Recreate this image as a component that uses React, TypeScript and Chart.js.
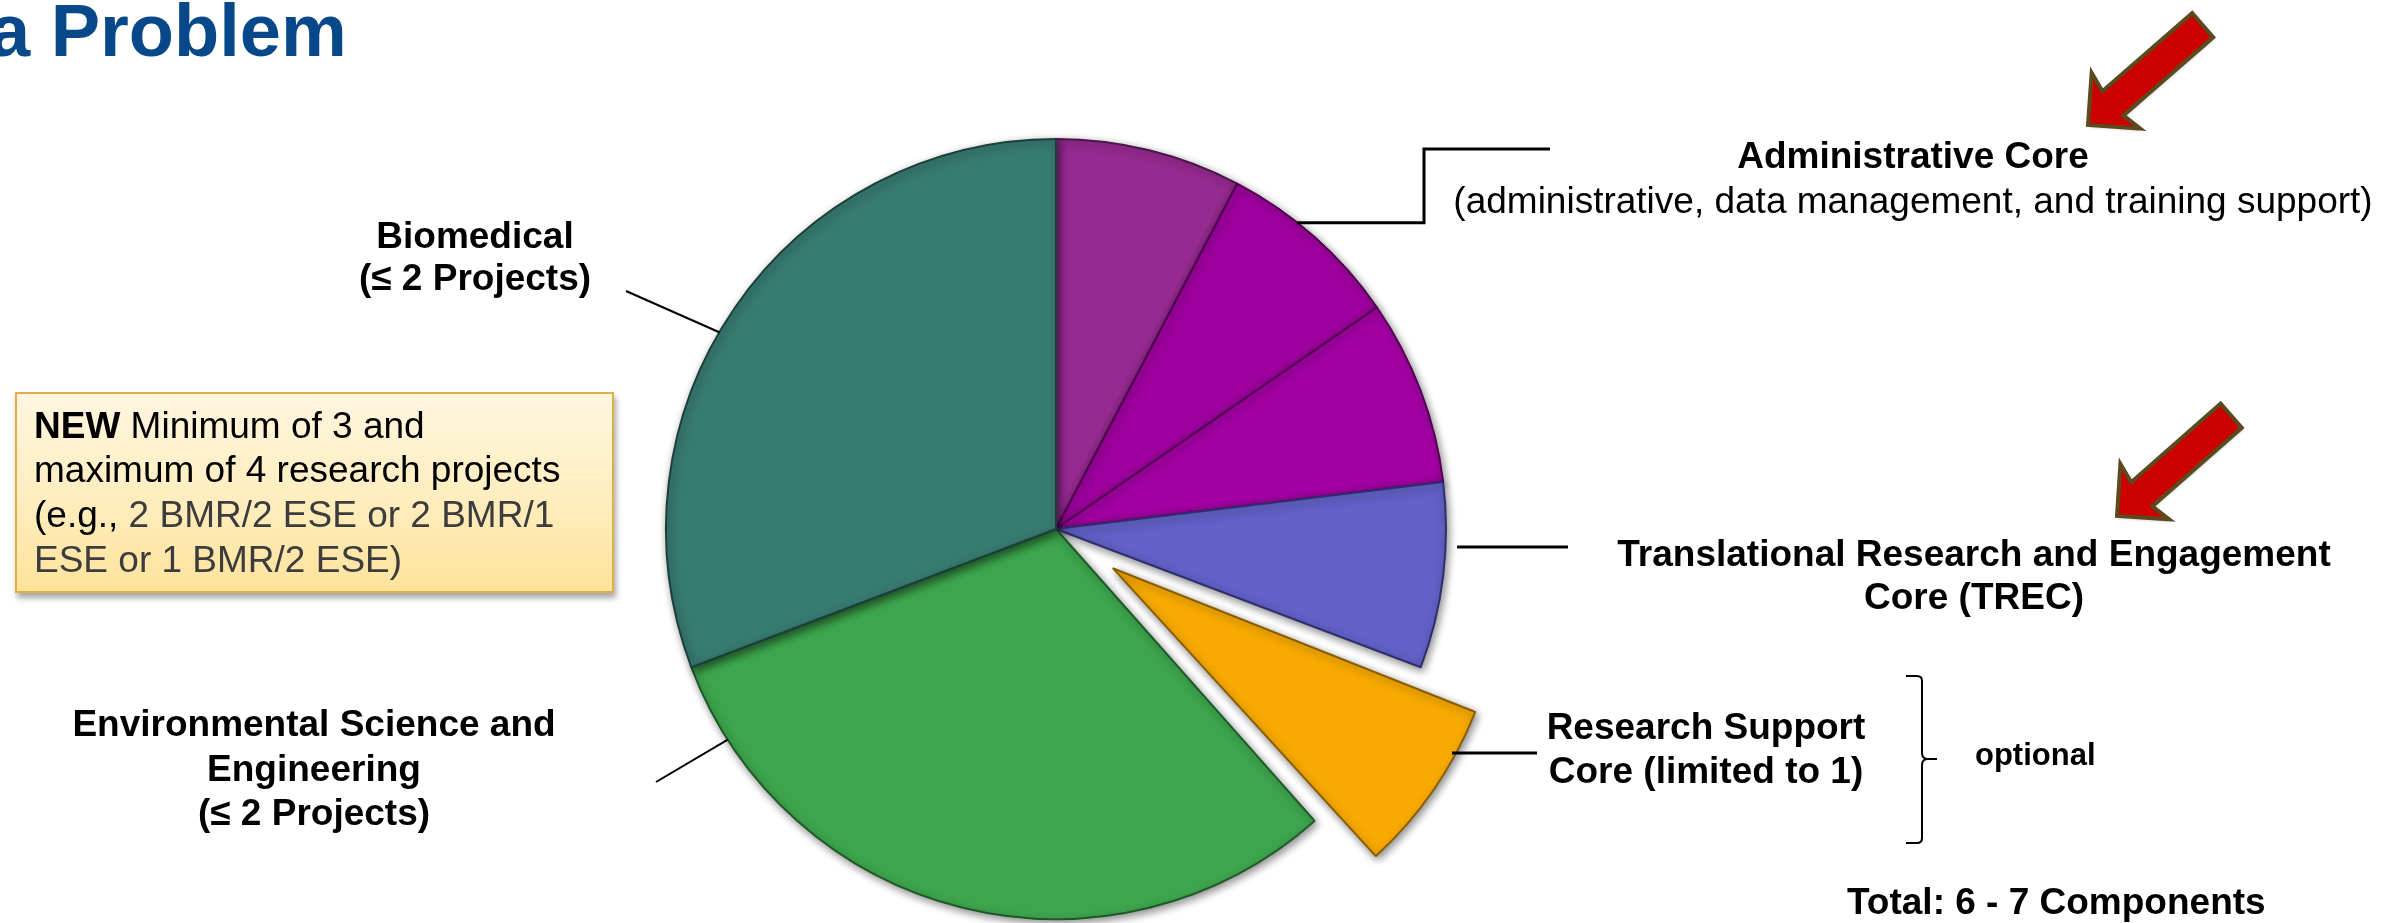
import React, { useEffect, useRef } from "react";
import { Chart, registerables } from "chart.js";

Chart.register(...registerables);

// ---------- data ----------
const categories = [
  "Administrative",
  "Data Management",
  "Training Support",
  "Translational Research and Engagement Core (TREC)",
  "Research Support Core",
  "Environmental Science and Engineering",
  "Biomedical",
];
const sliceValues = [1, 1, 1, 1, 1, 4, 4];
const explodedIndex = 4;

// ---------- styles ----------
const sliceColors = ["#952A90", "#9E009E", "#A200A2", "#6161C7", "#F8AA00", "#3DA54D", "#377A70"];
const sliceBorders = ["#4A1548", "#4F004F", "#520052", "#2F2F70", "#8A5E00", "#1E5A28", "#1C3F3A"];
const EXPLODE_PX = 69;
const PIE_RADIUS = 390;
const FONT = '"Liberation Sans", Arial, Helvetica, sans-serif';

const explodeFix = {
  id: "explodeFix",
  afterDatasetUpdate(chart: any) {
    const meta = chart.getDatasetMeta(0);
    meta.data.forEach((arc: any) => {
      const off = ((arc.options && arc.options.offset) || 0) / 4;
      if (off > 0) {
        const fix = 1 - Math.sin(Math.min(Math.PI, arc.circumference));
        arc.outerRadius = arc.outerRadius - off * fix;
      }
    });
  },
};

const pieShadow = {
  id: "pieShadow",
  beforeDatasetsDraw(chart: any) {
    const c = chart.ctx;
    c.save();
    c.shadowColor = "rgba(0,0,0,0.45)";
    c.shadowBlur = 9;
    c.shadowOffsetX = 2;
    c.shadowOffsetY = 3;
  },
  afterDatasetsDraw(chart: any) {
    chart.ctx.restore();
  },
};

function drawArrow(c: CanvasRenderingContext2D, tx: number, ty: number, ux: number, uy: number) {
  const len = Math.hypot(ux, uy);
  const u = [ux / len, uy / len];
  const p = [-u[1], u[0]];
  const pts: [number, number][] = [
    [0, 0],
    [37, -37],
    [33, -16],
    [152, -16],
    [152, 16],
    [33, 16],
    [37, 37],
  ];
  c.save();
  c.beginPath();
  pts.forEach(([a, b], i) => {
    const x = tx + a * u[0] + b * p[0];
    const y = ty + a * u[1] + b * p[1];
    if (i === 0) c.moveTo(x, y);
    else c.lineTo(x, y);
  });
  c.closePath();
  c.shadowColor = "rgba(0,0,0,0.25)";
  c.shadowBlur = 3;
  c.shadowOffsetX = 1;
  c.shadowOffsetY = 2;
  c.fillStyle = "#CC0000";
  c.fill();
  c.shadowColor = "transparent";
  c.lineJoin = "miter";
  c.strokeStyle = "#5C4A1F";
  c.lineWidth = 4;
  c.stroke();
  c.restore();
}

const annotations = {
  id: "annotations",
  afterDraw(chart: any) {
    const c: CanvasRenderingContext2D = chart.ctx;
    const arc0 = chart.getDatasetMeta(0).data[0];
    const cx = arc0.x;
    const cy = arc0.y;
    const R = PIE_RADIUS;
    const onPie = (deg: number) => [cx + R * Math.cos((deg * Math.PI) / 180), cy + R * Math.sin((deg * Math.PI) / 180)];
    c.save();
    c.strokeStyle = "#000";
    c.lineCap = "butt";
    // Biomedical leader
    c.lineWidth = 2;
    let e = onPie(210.3);
    c.beginPath();
    c.moveTo(626, 291);
    c.lineTo(e[0], e[1]);
    c.stroke();
    // Environmental leader
    e = onPie(147.3);
    c.beginPath();
    c.moveTo(656, 782);
    c.lineTo(e[0], e[1]);
    c.stroke();
    // Administrative connector
    c.lineWidth = 3;
    e = onPie(-51.75);
    c.beginPath();
    c.moveTo(e[0], e[1]);
    c.lineTo(1424, e[1]);
    c.lineTo(1424, 149);
    c.lineTo(1550, 149);
    c.stroke();
    // TREC leader
    c.beginPath();
    c.moveTo(1457, 547);
    c.lineTo(1568, 547);
    c.stroke();
    // Research support leader
    c.beginPath();
    c.moveTo(1452, 753);
    c.lineTo(1537, 753);
    c.stroke();
    // bracket
    c.lineWidth = 2;
    c.beginPath();
    c.moveTo(1906, 676);
    c.lineTo(1917, 676);
    c.quadraticCurveTo(1922, 676, 1922, 681);
    c.lineTo(1922, 753);
    c.quadraticCurveTo(1922, 759, 1928, 759);
    c.lineTo(1937, 759);
    c.moveTo(1928, 759);
    c.quadraticCurveTo(1922, 759, 1922, 765);
    c.lineTo(1922, 838);
    c.quadraticCurveTo(1922, 843, 1917, 843);
    c.lineTo(1906, 843);
    c.stroke();
    c.restore();
    // arrows
    drawArrow(c, 2088, 125, 115, -100);
    drawArrow(c, 2117, 516, 115, -101);
  },
};

type LabelProps = {
  x: number;
  baseline: number;
  size?: number;
  bold?: boolean;
  align?: "center" | "left";
  color?: string;
  children: React.ReactNode;
};

function Label({ x, baseline, size = 37, bold = true, align = "center", color = "#000", children }: LabelProps) {
  const top = baseline - 0.8465 * size;
  const style: React.CSSProperties = {
    position: "absolute",
    top,
    fontFamily: FONT,
    fontSize: size,
    lineHeight: `${size}px`,
    fontWeight: bold ? 700 : 400,
    color,
    whiteSpace: "nowrap",
    zIndex: 3,
  };
  if (align === "center") {
    style.left = x - 700;
    style.width = 1400;
    style.textAlign = "center";
  } else {
    style.left = x;
  }
  return <div style={style}>{children}</div>;
}

export default function App() {
  const canvasRef = useRef<HTMLCanvasElement | null>(null);

  useEffect(() => {
    if (!canvasRef.current) return;
    const chart = new Chart(canvasRef.current, {
      type: "pie",
      data: {
        labels: categories,
        datasets: [
          {
            data: sliceValues,
            backgroundColor: sliceColors,
            borderColor: sliceBorders,
            borderWidth: 2,
            offset: sliceValues.map((_, i) => (i === explodedIndex ? EXPLODE_PX * 4 : 0)),
          },
        ],
      },
      options: {
        responsive: false,
        animation: false,
        devicePixelRatio: 1,
        radius: PIE_RADIUS,
        layout: { padding: { left: 0, right: 270, top: 135, bottom: 0 } },
        plugins: {
          legend: { display: false },
          title: { display: false },
          tooltip: { enabled: false },
        },
        events: [],
      },
      plugins: [explodeFix, pieShadow, annotations],
    } as any);
    return () => chart.destroy();
  }, []);

  const gray = "#3C3C3C";

  return (
    <div
      style={{
        position: "fixed",
        left: 0,
        top: 0,
        width: 2382,
        height: 923,
        overflow: "hidden",
        background: "#FFFFFF",
        fontFamily: FONT,
      }}
    >
      <canvas
        ref={canvasRef}
        width={2382}
        height={923}
        style={{ position: "absolute", left: 0, top: 0, width: 2382, height: 923, zIndex: 1 }}
      />

      {/* title */}
      <Label x={-11} baseline={57} size={74} align="left" color="#07488A">
        a Problem
      </Label>

      {/* left labels */}
      <Label x={475} baseline={248}>Biomedical</Label>
      <Label x={475} baseline={290}>(≤ 2 Projects)</Label>

      <Label x={314} baseline={736}>Environmental Science and</Label>
      <Label x={314} baseline={781}>Engineering</Label>
      <Label x={314} baseline={825}>(≤ 2 Projects)</Label>

      {/* yellow note box */}
      <div
        style={{
          position: "absolute",
          left: 15,
          top: 392,
          width: 599,
          height: 201,
          boxSizing: "border-box",
          background: "linear-gradient(180deg, #FFF6E0 0%, #FFEDBD 55%, #FFE39C 100%)",
          border: "2px solid #DDB04A",
          boxShadow: "2px 5px 6px rgba(0,0,0,0.35)",
          zIndex: 2,
        }}
      />
      <Label x={34} baseline={438} bold={false} align="left">
        <b>NEW</b> Minimum of 3 and
      </Label>
      <Label x={34} baseline={482} bold={false} align="left">
        maximum of 4 research projects
      </Label>
      <Label x={34} baseline={527} bold={false} align="left">
        (e.g., <span style={{ color: gray }}>2 BMR/2 ESE or 2 BMR/1</span>
      </Label>
      <Label x={34} baseline={572} bold={false} align="left" color={gray}>
        ESE or 1 BMR/2 ESE)
      </Label>

      {/* right labels */}
      <Label x={1913} baseline={168}>Administrative Core</Label>
      <Label x={1913} baseline={213} bold={false}>
        (administrative, data management, and training support)
      </Label>

      <Label x={1974} baseline={566}>Translational Research and Engagement</Label>
      <Label x={1974} baseline={609}>Core (TREC)</Label>

      <Label x={1706} baseline={739}>Research Support</Label>
      <Label x={1706} baseline={783}>Core (limited to 1)</Label>

      <Label x={1975} baseline={765} size={31} align="left">optional</Label>

      <Label x={1847} baseline={914} align="left">Total: 6 - 7 Components</Label>
    </div>
  );
}
